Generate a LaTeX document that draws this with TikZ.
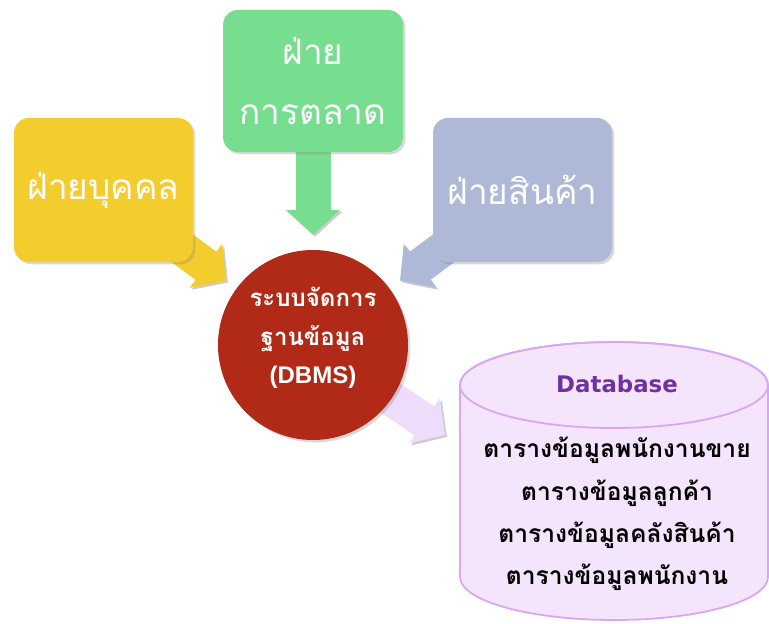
\documentclass[tikz,border=0pt]{standalone}
\usepackage{fontspec}
\setmainfont{Loma}[Script=Thai]
\newfontfamily\dbmsfont{Liberation Sans}
\newfontfamily\dbfont{DejaVu Sans}
\usetikzlibrary{arrows.meta,positioning,shadows,backgrounds}
\definecolor{depyellow}{HTML}{F3CD2D}
\definecolor{depgreen}{HTML}{77DE8F}
\definecolor{depblue}{HTML}{ADB9D6}
\definecolor{dbmsred}{HTML}{B02A17}
\definecolor{dblav}{HTML}{EDDDFB}
\definecolor{dbfill}{HTML}{F4E4FC}
\definecolor{dbline}{HTML}{D8A6F4}
\definecolor{dbpurple}{HTML}{7030A0}

\begin{document}
\begin{tikzpicture}[x=0.03cm,y=-0.03cm,
    deptbox/.style={rounded corners=0.45cm,minimum width=5.37cm,minimum height=4.32cm,text=white,align=center,
      font=\fontsize{30}{51}\selectfont,drop shadow={shadow xshift=.07cm,shadow yshift=-.07cm,opacity=.3}},
    flowarrow/.style={line width=1.05cm,-{Triangle[length=.75cm,width=1.6cm]},draw=#1,
      preaction={draw=black,opacity=.2,transform canvas={shift={(.06cm,-.06cm)}}}}]
  \useasboundingbox (0,0) rectangle (769,623);

  % three departments round the DBMS
  \node[deptbox,fill=depyellow] (staff) at (103.5,190) {ฝ่ายบุคคล};
  \node[deptbox,fill=depgreen,minimum width=5.4cm,minimum height=4.26cm] (market) at (313,81) {ฝ่าย\\การตลาด};
  \node[deptbox,fill=depblue] (goods) at (522.5,190) {ฝ่ายสินค้า};
  \node[circle,fill=dbmsred,minimum size=5.7cm,text=white,align=center,font=\bfseries\fontsize{20.5}{33}\selectfont,
    drop shadow={shadow xshift=.07cm,shadow yshift=-.07cm,opacity=.3}] (dbms) at (313,345) {};
  \node[text=white,align=center,font=\bfseries\fontsize{20.5}{33}\selectfont] (dbmstext) at (313,338)
    {ระบบจัดการ\\ฐานข้อมูล\\{\dbmsfont (DBMS)}};

  % database drum
  \fill[dbfill,draw=dbline,line width=1.5pt] (460,385) -- (460,577)
    arc[start angle=180,end angle=360,x radius=4.62cm,y radius=1.29cm] -- (768,385)
    arc[start angle=0,end angle=180,x radius=4.62cm,y radius=1.29cm] -- cycle;
  \draw[dbline,line width=1.5pt] (614,385) ellipse[x radius=4.62cm,y radius=1.29cm];
  \node[text=dbpurple,font=\dbfont\bfseries\fontsize{19.5}{24}\selectfont] (dbtitle) at (617,384) {Database};
  \node[align=center,font=\bfseries\fontsize{21}{36}\selectfont] (tables) at (617,514)
    {ตารางข้อมูลพนักงานขาย\\ตารางข้อมูลลูกค้า\\ตารางข้อมูลคลังสินค้า\\ตารางข้อมูลพนักงาน};
  \coordinate (dbin) at (445,435);

  \begin{scope}[on background layer]
    \draw[flowarrow=depyellow,shorten >=0.39cm] (staff.center) -- (dbms);
    \draw[flowarrow=depgreen,shorten >=0.45cm] (market.center) -- (dbms);
    \draw[flowarrow=depblue,shorten >=0.39cm] (goods.center) -- (dbms);
    \draw[flowarrow=dblav] (dbms.center) -- (dbin);
  \end{scope}
\end{tikzpicture}
\end{document}
